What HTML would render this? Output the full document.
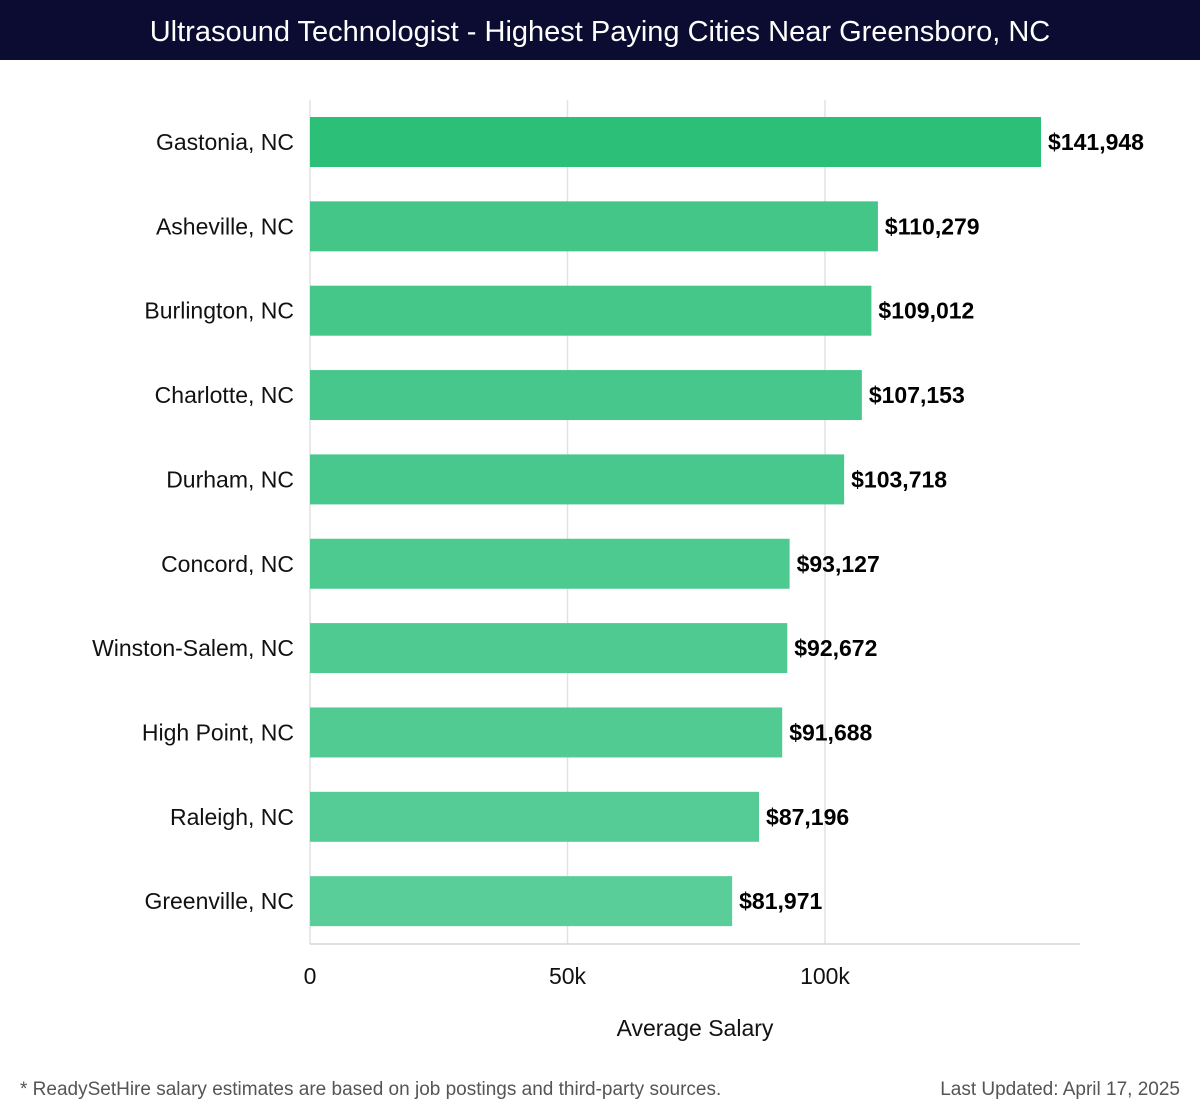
<!DOCTYPE html>
<html><head><meta charset="utf-8"><style>
body{margin:0;width:1200px;height:1120px;background:#fff;font-family:"Liberation Sans","DejaVu Sans",sans-serif;overflow:hidden;position:relative}
#title{position:absolute;left:0;top:0;width:1200px;height:60px;background:#0c0c33;color:#fff;font-size:29px;text-align:center;line-height:64px}
svg{position:absolute;left:0;top:0}
.foot{position:absolute;top:1079px;font-size:19px;color:#555}
</style></head><body>
<div id="title">Ultrasound Technologist - Highest Paying Cities Near Greensboro, NC</div>
<svg id="chart" width="1200" height="1120"></svg>
<div class="foot" style="left:20px">* ReadySetHire salary estimates are based on job postings and third-party sources.</div>
<div class="foot" style="right:20px">Last Updated: April 17, 2025</div>
<script>
const categories=["Gastonia, NC","Asheville, NC","Burlington, NC","Charlotte, NC","Durham, NC","Concord, NC","Winston-Salem, NC","High Point, NC","Raleigh, NC","Greenville, NC"];
const values=[141948,110279,109012,107153,103718,93127,92672,91688,87196,81971];
const tickValues=[0,50000,100000];
const tickLabels=["0","50k","100k"];
const svg=document.getElementById('chart');
const NS='http://www.w3.org/2000/svg';
const x0=310,pxPer=257.5/50000,top0=100,step=84.35,barH=50;
const X=v=>x0+v*pxPer;
const Y=i=>top0+17+i*step;
function mk(t,a,txt){const e=document.createElementNS(NS,t);for(const k in a)e.setAttribute(k,a[k]);if(txt!==undefined)e.textContent=txt;svg.appendChild(e);return e;}
tickValues.forEach((v,i)=>{
 const g=mk('line',{x1:X(v),x2:X(v),y1:top0,y2:944,stroke:'#e2e2e2','stroke-width':1.5});
 
 
 const t=mk('text',{x:X(v),y:984,'text-anchor':'middle','font-size':23,fill:'#111'},tickLabels[i]);
 
 
});
const ax=mk('line',{x1:x0,x2:1080,y1:944,y2:944,stroke:'#d5d5d5','stroke-width':1.5});


const at=mk('text',{x:695,y:1036,'text-anchor':'middle','font-size':23,fill:'#111'},'Average Salary');


const cols=['#2bbf78','#45c689','#46c78a','#47c78b','#48c88c','#4dca8f','#4fca91','#52cb93','#55cc96','#59ce99'];
categories.forEach((c,i)=>{
 const y=Y(i);
 const r=mk('rect',{x:x0,y:y,width:X(values[i])-x0,height:barH,fill:cols[i]});
 
 
 const l=mk('text',{x:294,y:y+barH/2+8,'text-anchor':'end','font-size':23,fill:'#111'},c);
 
 
 const v=mk('text',{x:X(values[i])+7,y:y+barH/2+8,'font-size':23,'font-weight':'bold',fill:'#000'},'$'+values[i].toLocaleString('en-US'));
 
 
});
</script>
</body></html>
